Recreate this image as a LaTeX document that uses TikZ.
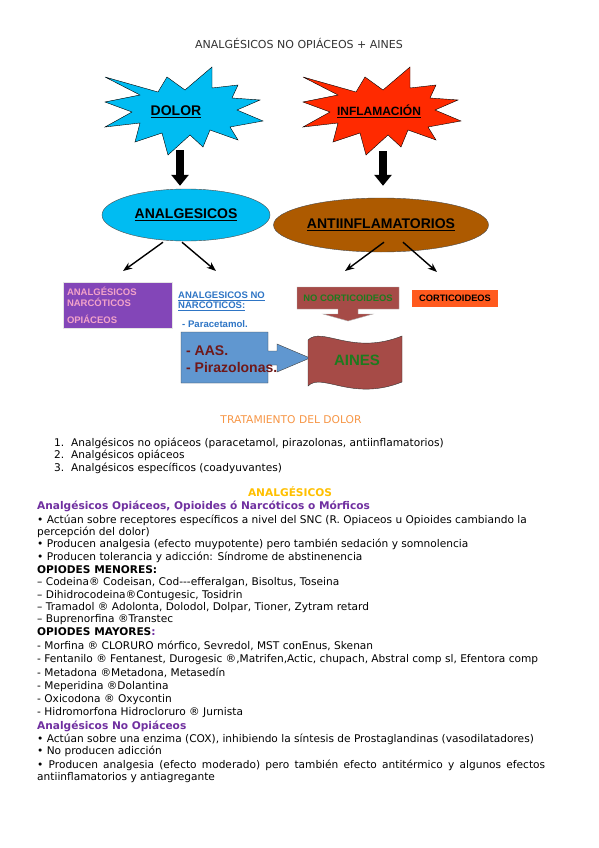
\documentclass[tikz,border=0pt]{standalone}
\usepackage{fontspec}
\setmainfont{DejaVu Sans}
\newfontfamily\arial{Liberation Sans}
\usetikzlibrary{shapes.geometric,arrows.meta}
\definecolor{dolorblue}{HTML}{00BCF2}
\definecolor{inflred}{HTML}{FF2A00}
\definecolor{antibrown}{HTML}{AD5A00}
\definecolor{narcpurple}{HTML}{8346B8}
\definecolor{narcpink}{HTML}{F2A3C9}
\definecolor{nonarcblue}{HTML}{2E75C5}
\definecolor{aasblue}{HTML}{6097D0}
\definecolor{aasred}{HTML}{701818}
\definecolor{ainesred}{HTML}{A64B47}
\definecolor{ainesgreen}{HTML}{1E7A1E}
\definecolor{cortorange}{HTML}{FF5A1E}
\definecolor{tratorange}{HTML}{F79646}
\definecolor{analgyellow}{HTML}{FFC000}
\definecolor{headpurple}{HTML}{7030A0}

\begin{document}
\begin{tikzpicture}[x=1pt,y=-1pt,>=Stealth,inner sep=2pt,
  txt/.style={anchor=base west,inner sep=0pt,font=\fontsize{10.6}{12.5}\selectfont},
  lbl/.style={font=\arial\bfseries\fontsize{14}{17}\selectfont},
  fat/.style={line width=8pt,-{Triangle[width=17pt,length=11pt]}},
  slim/.style={line width=1.4pt,->},
  oval/.style={ellipse,draw=gray!60!black,line width=0.4pt}]
  \fill[white] (0,0) rectangle (599,848);
  \useasboundingbox (0,0) rectangle (599,848);
  \node[font=\fontsize{11}{13}\selectfont,text=black!80] (title) at (299,43) {ANALGÉSICOS NO OPIÁCEOS + AINES};
  \foreach \s/\c in {0/dolorblue,198/inflred}
    {
      \filldraw[xshift=\s,fill=\c,line width=0.4pt] (105,77) -- (158,92) -- (167,77) -- (185,90) -- (212,67) -- (212,88)
        -- (238,85) -- (232,98) -- (260,100) -- (237,110) -- (263,121) -- (230,127) -- (238,140) -- (210,130)
        -- (203,147) -- (190,135) -- (168,155) -- (162,133) -- (135,142) -- (140,123) -- (105,127) -- (132,112)
        -- (105,102) -- (140,95) -- cycle;
    }
  \node[lbl] (dolor) at (176,112) {\underline{DOLOR}};
  \node[lbl,font=\arial\bfseries\fontsize{12}{14}\selectfont] (infl) at (379,111) {\underline{INFLAMACIÓN}};
  \node[oval,fill=dolorblue,minimum width=168,minimum height=52,lbl] (analg) at (186,215) {\underline{ANALGESICOS}};
  \node[oval,fill=antibrown,minimum width=214,minimum height=54,lbl] (anti) at (381,225) {\underline{ANTIINFLAMATORIOS}};
  \draw[fat] ([shift={(4,38)}]dolor.center) -- ([shift={(-6,-3)}]analg.north);
  \draw[fat] ([shift={(4,40)}]infl.center) -- ([shift={(2,-12)}]anti.north);
  \coordinate (n1) at (123,271);
  \coordinate (n2) at (216,271);
  \coordinate (n3) at (345,271);
  \coordinate (n4) at (437,272);
  \draw[slim] ([shift={(-23,1)}]analg.south) -- (n1);
  \draw[slim] ([shift={(-4,1)}]analg.south) -- (n2);
  \draw[slim] ([shift={(3,-10)}]anti.south) -- (n3);
  \draw[slim] ([shift={(22,-10)}]anti.south) -- (n4);

  \node[fill=narcpurple,draw=white!80!gray,line width=0.4pt,minimum width=109,minimum height=46,text width=101,align=left,
    inner sep=4pt,font=\arial\bfseries\fontsize{9.5}{11}\selectfont,text=narcpink] (narc) at (117.5,305) {ANALGÉSICOS\\NARCÓTICOS\\[6pt]OPIÁCEOS};
  \node[txt,font=\arial\bfseries\fontsize{9.5}{11}\selectfont,text=nonarcblue] (nonarc1) at (178,298.4) {\underline{ANALGESICOS NO}};
  \node[txt,font=\arial\bfseries\fontsize{9.5}{11}\selectfont,text=nonarcblue] (nonarc2) at (178,308.5) {\underline{NARCÓTICOS:}};
  \node[txt,font=\arial\bfseries\fontsize{9.6}{11}\selectfont,text=nonarcblue] (parac) at (182,327.5) {- Paracetamol.};

  \filldraw[fill=aasblue,draw=gray!50!black,line width=0.4pt] (181,332) -- (268,332) -- (268,351) -- (277,351) -- (277,344)
    -- (310,358) -- (277,372) -- (277,365) -- (268,365) -- (268,383) -- (181,383) -- cycle;
  \node[txt,font=\arial\bfseries\fontsize{14}{17}\selectfont,text=aasred] (aas) at (186,355) {- AAS.};
  \node[txt,font=\arial\bfseries\fontsize{14}{17}\selectfont,text=aasred] (piraz) at (186,372) {- Pirazolonas.};

  \filldraw[fill=ainesred,draw=gray!40!black,line width=0.4pt] (308,340) .. controls (322,326) and (352,356) .. (402,336)
    -- (402,382) .. controls (352,402) and (322,372) .. (308,386) -- cycle;
  \node[lbl,font=\arial\bfseries\fontsize{15}{17}\selectfont,text=ainesgreen] (aines) at (357,360) {AINES};
  \filldraw[fill=ainesred,draw=gray!60,line width=0.4pt] (297,287) -- (399,287) -- (399,309) -- (358,309) -- (358,314)
    -- (373,314) -- (348,321) -- (323,314) -- (338,314) -- (338,309) -- (297,309) -- cycle;
  \node[font=\arial\bfseries\fontsize{9.4}{10}\selectfont,text=ainesgreen] (nocort) at (348,298) {NO CORTICOIDEOS};
  \node[fill=cortorange,minimum width=86,minimum height=17,inner sep=0pt,font=\arial\bfseries\fontsize{9.3}{10}\selectfont]
    (cort) at (455,298.5) {CORTICOIDEOS};

  \node[txt,anchor=base,font=\fontsize{10.7}{13}\selectfont,text=tratorange] (trat) at (291,423) {TRATAMIENTO DEL DOLOR};
  \foreach \y/\t [count=\i] in {446/{Analgésicos no opiáceos (paracetamol, pirazolonas, antiinflamatorios)},
    458/{Analgésicos opiáceos},471/{Analgésicos específicos (coadyuvantes)}}
    {
      \node[txt] (num\i) at (54,\y) {\i.};
      \node[txt] (item\i) at (71,\y) {\t};
    }
  \node[txt,anchor=base,font=\bfseries\fontsize{10.6}{12}\selectfont,text=analgyellow] (analhead) at (290,496) {ANALGÉSICOS};
  \foreach \y/\t [count=\i] in {509/{\textbf{\color{headpurple}Analgésicos Opiáceos, Opioides ó Narcóticos o Mórficos}},
    523/{• Actúan sobre receptores específicos a nivel del SNC (R. Opiaceos u Opioides cambiando la},
    535/{percepción del dolor)},
    547/{• Producen analgesia (efecto muypotente) pero también sedación y somnolencia},
    560/{• Producen tolerancia y adicción: Síndrome de abstinenencia},
    573/{\textbf{OPIODES MENORES:}},
    585.5/{– Codeina® Codeisan, Cod-{}-{}-efferalgan, Bisoltus, Toseina},
    598/{– Dihidrocodeina®Contugesic, Tosidrin},
    610/{– Tramadol ® Adolonta, Dolodol, Dolpar, Tioner, Zytram retard},
    622/{– Buprenorfina ®Transtec},
    635.5/{\textbf{OPIODES MAYORES{\color{headpurple}:}}},
    649/{- Morfina ® CLORURO mórfico, Sevredol, MST conEnus, Skenan},
    662/{- Fentanilo ® Fentanest, Durogesic ®,Matrifen,Actic, chupach, Abstral comp sl, Efentora comp},
    676/{- Metadona ®Metadona, Metasedín},
    689.5/{- Meperidina ®Dolantina},
    702/{- Oxicodona ® Oxycontin},
    715/{- Hidromorfona Hidrocloruro ® Jurnista},
    729/{\textbf{\color{headpurple}Analgésicos No Opiáceos}},
    742/{• Actúan sobre una enzima (COX), inhibiendo la síntesis de Prostaglandinas (vasodilatadores)},
    754.5/{• No producen adicción},
    768/{\makebox[508pt][s]{• Producen analgesia (efecto moderado) pero también efecto antitérmico y algunos efectos}},
    780/{antiinflamatorios y antiagregante}}
    {
      \node[txt] (l\i) at (37,\y) {\t};
    }
\end{tikzpicture}
\end{document}
